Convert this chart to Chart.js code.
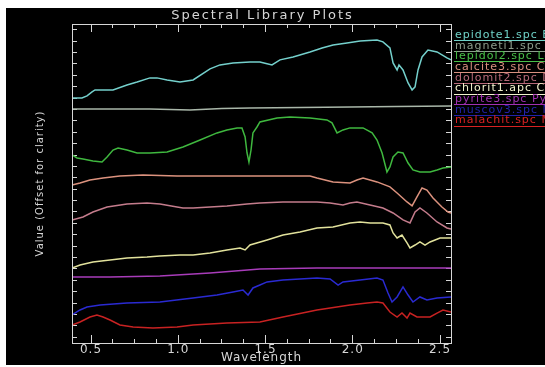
<!DOCTYPE html>
<html><head><meta charset="utf-8">
<script src="https://cdn.jsdelivr.net/npm/chart.js@4.4.1/dist/chart.umd.min.js"></script>
<style>
html,body{margin:0;padding:0;background:#fff;width:545px;height:367px;overflow:hidden}
#wrap{position:absolute;left:6px;top:8px;width:539px;height:357px;background:#000}
canvas{display:block}
</style></head><body>
<div id="wrap"><canvas id="c" width="539" height="357"></canvas></div>
<script>
// ---- data (values already offset for clarity) ----
const seriesNames = ['epidote1.spc Epidote', 'magneti1.spc Magnetite', 'lepidol2.spc Lepidolite',
  'calcite3.spc Calcite', 'dolomit2.spc Dolomite', 'chlorit1.apc Chlorite',
  'pyrite3.spc Pyrite', 'muscov3.spc Muscovite', 'malachit.spc Malachite'];

const xTickValues = [0.5,0.625,0.75,0.875,1.0,1.125,1.25,1.375,1.5,1.625,1.75,1.875,2.0,2.125,2.25,2.375,2.5];
const xMajorTicks = [0.5,1.0,1.5,2.0,2.5];
const yTickValues = [0.5,1.5,2.5,3.5,4.5,5.5,6.5,7.5,8.5,9.5,10.5,11.5,12.5,13.5,14.5,15.5,16.5,17.5,18.5,19.5,20.5,21.5,22.5,23.5,24.5,25.5,26.5,27.5];

const wlEpidote  = [0.391,0.448,0.477,0.506,0.523,0.569,0.626,0.706,0.764,0.838,0.878,0.936,1.010,1.085,1.182,1.239,1.314,1.411,1.468,1.537,1.583,1.658,1.755,1.824,1.887,1.967,2.042,2.139,2.173,2.213,2.231,2.254,2.265,2.288,2.317,2.340,2.357,2.374,2.397,2.431,2.483,2.540,2.563];
const valEpidote = [21.51,21.51,21.69,22.04,22.21,22.21,22.21,22.65,22.91,23.27,23.27,23.09,22.91,23.09,24.06,24.41,24.58,24.67,24.67,24.41,24.85,25.11,25.55,25.90,26.16,26.34,26.51,26.60,26.43,25.90,24.58,23.97,24.41,23.97,22.83,22.21,22.48,23.97,25.11,25.72,25.55,25.02,24.85];

const wlMagnetite  = [0.391,0.600,0.838,1.067,1.250,1.411,1.700,1.984,2.250,2.563];
const valMagnetite = [20.54,20.54,20.54,20.46,20.58,20.63,20.66,20.72,20.76,20.81];

const wlLepidolite  = [0.391,0.420,0.454,0.511,0.563,0.592,0.626,0.655,0.706,0.764,0.838,0.936,1.027,1.125,1.222,1.279,1.337,1.365,1.383,1.394,1.405,1.417,1.428,1.451,1.468,1.566,1.640,1.755,1.852,1.881,1.910,1.944,1.984,2.059,2.111,2.139,2.168,2.196,2.213,2.231,2.259,2.288,2.317,2.345,2.385,2.443,2.483,2.517,2.563];
const valLepidolite = [16.51,16.24,16.15,15.98,15.89,16.33,16.94,17.12,16.94,16.68,16.68,16.77,17.21,17.82,18.44,18.70,18.88,18.88,18.09,16.68,15.89,16.94,18.44,18.96,19.40,19.75,19.84,19.75,19.58,19.32,18.44,18.70,18.88,18.88,18.44,17.82,16.68,15.01,15.45,16.33,16.77,16.68,15.80,15.19,15.01,15.01,15.19,15.36,15.45];

const wlCalcite  = [0.391,0.437,0.494,0.569,0.666,0.798,0.993,1.182,1.371,1.600,1.755,1.795,1.887,1.984,2.024,2.059,2.139,2.213,2.254,2.311,2.340,2.368,2.397,2.425,2.460,2.511,2.546,2.563];
const valCalcite = [13.87,14.05,14.31,14.49,14.66,14.75,14.66,14.66,14.66,14.66,14.66,14.49,14.14,14.05,14.31,14.49,14.14,13.70,13.17,12.38,12.03,12.82,13.61,13.43,12.73,11.94,11.50,11.41];

const wlDolomite  = [0.391,0.454,0.511,0.592,0.706,0.821,0.895,0.993,1.027,1.085,1.182,1.279,1.394,1.468,1.600,1.795,1.870,1.944,1.984,2.024,2.099,2.173,2.231,2.288,2.328,2.357,2.385,2.425,2.483,2.540,2.563];
const valDolomite = [10.80,11.06,11.50,11.94,12.20,12.29,12.20,11.94,11.85,11.85,11.94,12.03,12.20,12.29,12.38,12.38,12.29,12.12,12.29,12.38,12.12,11.85,11.41,10.80,10.54,11.50,11.85,11.41,10.62,10.10,10.01];

const wlChlorite  = [0.391,0.437,0.511,0.609,0.706,0.821,0.895,1.010,1.085,1.182,1.279,1.354,1.383,1.411,1.509,1.600,1.698,1.795,1.887,1.984,2.042,2.099,2.173,2.213,2.231,2.254,2.282,2.311,2.328,2.357,2.385,2.414,2.443,2.500,2.563];
const valChlorite = [6.58,6.85,7.11,7.29,7.46,7.55,7.64,7.73,7.73,7.90,8.17,8.34,8.17,8.60,9.04,9.48,9.75,10.10,10.18,10.54,10.62,10.54,10.54,10.36,9.66,9.22,9.48,8.78,8.34,8.60,8.87,8.60,8.87,9.22,9.22];

const wlPyrite  = [0.391,0.609,0.895,1.182,1.468,1.795,2.173,2.563];
const valPyrite = [5.79,5.79,5.88,6.15,6.50,6.58,6.58,6.58];

const wlMuscovite  = [0.391,0.437,0.477,0.552,0.706,0.895,1.085,1.222,1.314,1.371,1.400,1.428,1.468,1.509,1.600,1.795,1.870,1.916,1.944,2.042,2.139,2.173,2.202,2.225,2.254,2.288,2.317,2.345,2.385,2.425,2.483,2.563];
const valMuscovite = [2.46,2.90,3.16,3.34,3.51,3.60,3.95,4.21,4.48,4.65,4.21,4.83,5.09,5.36,5.53,5.71,5.62,5.09,5.36,5.53,5.71,5.53,4.39,3.60,4.04,4.92,4.21,3.60,4.04,3.78,3.95,4.04];

const wlMalachite  = [0.391,0.437,0.494,0.534,0.569,0.609,0.666,0.741,0.855,0.993,1.085,1.182,1.279,1.468,1.600,1.795,1.984,2.082,2.139,2.173,2.213,2.254,2.282,2.311,2.328,2.368,2.443,2.483,2.517,2.563];
const valMalachite = [1.58,1.84,2.28,2.46,2.28,2.02,1.58,1.40,1.32,1.40,1.58,1.67,1.76,1.84,2.28,2.90,3.34,3.51,3.60,3.51,2.72,2.28,2.63,2.19,2.63,2.28,2.28,2.63,2.90,2.72];

// ---- styles ----
const lineColors   = ['#74d0cc','#a9b7a9','#3fb83f','#dc927e','#c47c8c','#e2e29c','#a83cba','#2a2ad2','#c82222'];
const legendColors = ['#6fd2c8','#8d9d8d','#48c048','#d89080','#b86a7a','#f2f2cc','#a030b2','#2222aa','#d82222'];

const wls  = [wlEpidote, wlMagnetite, wlLepidolite, wlCalcite, wlDolomite, wlChlorite, wlPyrite, wlMuscovite, wlMalachite];
const vals = [valEpidote, valMagnetite, valLepidolite, valCalcite, valDolomite, valChlorite, valPyrite, valMuscovite, valMalachite];

const datasets = seriesNames.map((name, i) => ({
  label: name,
  data: wls[i].map((w, k) => ({x: w, y: vals[i][k]})),
  borderColor: lineColors[i],
  borderWidth: 1.5,
  pointRadius: 0,
  tension: 0,
  fill: false
}));

const FG = '#d6d6d6';

const framePlugin = {
  id: 'frame',
  beforeDraw(chart) { chart.ctx.letterSpacing = '1px'; },
  afterDraw(chart) {
    const {ctx, chartArea: a} = chart;
    ctx.save();
    ctx.strokeStyle = FG; ctx.lineWidth = 1;
    ctx.strokeRect(Math.round(a.left) + 0.5, Math.round(a.top) + 0.5, Math.round(a.right - a.left), Math.round(a.bottom - a.top));
    // title
    ctx.letterSpacing = '2px';
    ctx.fillStyle = FG;
    ctx.font = '13px "DejaVu Sans"';
    ctx.textAlign = 'center'; ctx.textBaseline = 'middle';
    ctx.fillText('Spectral Library Plots', (a.left + a.right) / 2 + 1, 8);
    // legend
    ctx.letterSpacing = '1px';
    ctx.font = '11px "DejaVu Sans"';
    ctx.textAlign = 'left';
    chart.data.datasets.forEach((ds, i) => {
      const y = 27 + i * 10.7;
      ctx.fillStyle = legendColors[i];
      ctx.fillText(ds.label, a.right + 4, y);
      ctx.strokeStyle = legendColors[i];
      ctx.beginPath();
      ctx.moveTo(a.right + 3, Math.round(y + 5) + 0.5);
      ctx.lineTo(chart.width, Math.round(y + 5) + 0.5);
      ctx.stroke();
    });
    ctx.restore();
  }
};

new Chart(document.getElementById('c'), {
  type: 'line',
  data: {datasets},
  plugins: [framePlugin],
  options: {
    responsive: false,
    animation: false,
    devicePixelRatio: 1,
    layout: {padding: {left: 0, right: 94, top: 16, bottom: 0}},
    plugins: {legend: {display: false}, title: {display: false}, tooltip: {enabled: false}},
    scales: {
      x: {
        type: 'linear', position: 'bottom', min: 0.391, max: 2.563,
        afterBuildTicks: s => { s.ticks = xTickValues.map(v => ({value: v})); },
        afterFit: s => { s.height = 22; s.paddingLeft = 0; s.paddingRight = 0; },
        grid: {
          drawOnChartArea: true, drawTicks: false, tickLength: 0, color: FG, lineWidth: 1
        },
        border: {
          display: false,
          dash: c => {
            const a = c.chart.chartArea; const h = a.bottom - a.top;
            const major = c.tick && xMajorTicks.some(m => Math.abs(m - c.tick.value) < 1e-6);
            const L = major ? 8 : 4;
            return [L, h - 2 * L, L, 2000];
          }
        },
        ticks: {
          autoSkip: false, maxRotation: 0, padding: 0, color: FG,
          font: {family: 'DejaVu Sans', size: 12},
          callback: v => xMajorTicks.some(m => Math.abs(m - v) < 1e-6) ? v.toFixed(1) : ''
        },
        title: {display: true, text: 'Wavelength', color: FG, font: {family: 'DejaVu Sans', size: 12}, padding: {top: 0, bottom: 0}}
      },
      y: {
        type: 'linear', position: 'left', min: 0, max: 28,
        afterBuildTicks: s => { s.ticks = yTickValues.map(v => ({value: v})); },
        afterFit: s => { s.width = 66; s.paddingTop = 0; s.paddingBottom = 0; },
        grid: {drawOnChartArea: true, drawTicks: false, tickLength: 0, color: FG, lineWidth: 1},
        border: {
          display: false,
          dash: c => { const a = c.chart.chartArea; const w = a.right - a.left; return [5, w - 10, 5, 2000]; }
        },
        ticks: {display: false},
        title: {display: true, text: 'Value (Offset for clarity)', color: FG, font: {family: 'DejaVu Sans', size: 10}, padding: {top: 28, bottom: 0}}
      }
    }
  }
});
</script>
</body></html>
